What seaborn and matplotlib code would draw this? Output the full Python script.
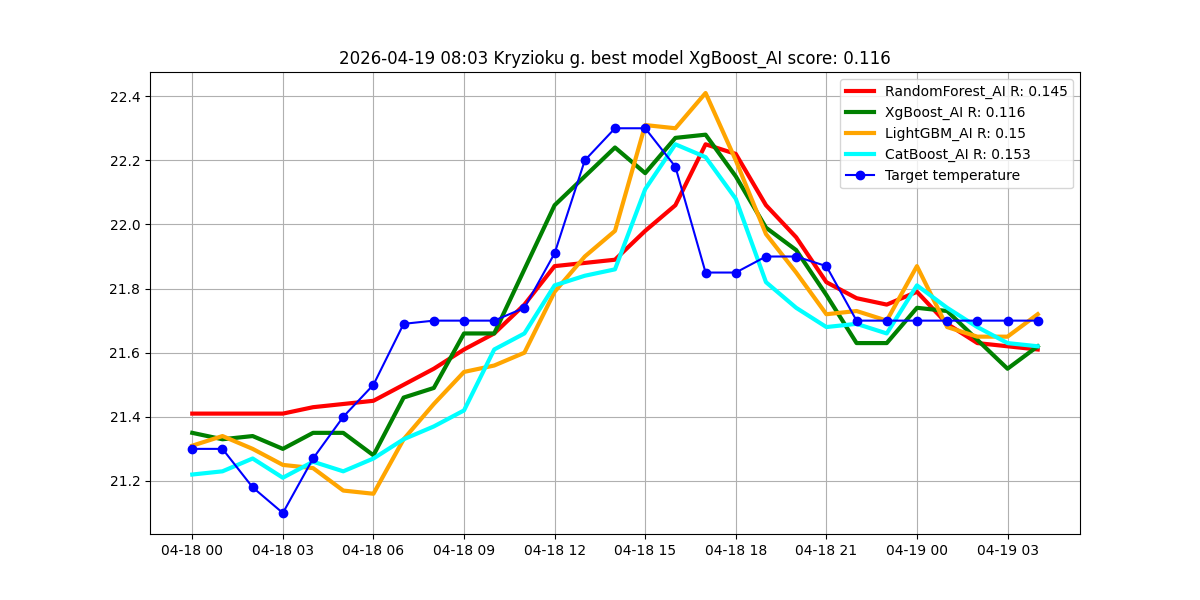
import matplotlib

matplotlib.use("Agg")
import matplotlib.dates as mdates
import matplotlib.pyplot as plt
import pandas as pd
import seaborn as sns

TITLE = "2026-04-19 08:03 Kryzioku g. best model XgBoost_AI score: 0.116"

# hourly timestamps, 04-18 00:00 .. 04-19 04:00
times = pd.date_range("2026-04-18 00:00", periods=29, freq="h")

random_forest = [21.41, 21.41, 21.41, 21.41, 21.43, 21.44, 21.45, 21.50, 21.55, 21.61,
                 21.66, 21.75, 21.87, 21.88, 21.89, 21.98, 22.06, 22.25, 22.22, 22.06,
                 21.96, 21.82, 21.77, 21.75, 21.79, 21.69, 21.63, 21.62, 21.61]
xgboost = [21.35, 21.33, 21.34, 21.30, 21.35, 21.35, 21.28, 21.46, 21.49, 21.66,
           21.66, 21.86, 22.06, 22.15, 22.24, 22.16, 22.27, 22.28, 22.15, 21.99,
           21.92, 21.78, 21.63, 21.63, 21.74, 21.73, 21.64, 21.55, 21.62]
lightgbm = [21.31, 21.34, 21.30, 21.25, 21.24, 21.17, 21.16, 21.33, 21.44, 21.54,
            21.56, 21.60, 21.79, 21.90, 21.98, 22.31, 22.30, 22.41, 22.20, 21.97,
            21.85, 21.72, 21.73, 21.70, 21.87, 21.68, 21.65, 21.65, 21.72]
catboost = [21.22, 21.23, 21.27, 21.21, 21.26, 21.23, 21.27, 21.33, 21.37, 21.42,
            21.61, 21.66, 21.81, 21.84, 21.86, 22.11, 22.25, 22.21, 22.08, 21.82,
            21.74, 21.68, 21.69, 21.66, 21.81, 21.74, 21.68, 21.63, 21.62]
target = [21.30, 21.30, 21.18, 21.10, 21.27, 21.40, 21.50, 21.69, 21.70, 21.70,
          21.70, 21.74, 21.91, 22.20, 22.30, 22.30, 22.18, 21.85, 21.85, 21.90,
          21.90, 21.87, 21.70, 21.70, 21.70, 21.70, 21.70, 21.70, 21.70]

models = [
    ("RandomForest_AI R: 0.145", random_forest, "red"),
    ("XgBoost_AI R: 0.116", xgboost, "green"),
    ("LightGBM_AI R: 0.15", lightgbm, "orange"),
    ("CatBoost_AI R: 0.153", catboost, "cyan"),
]


def main() -> None:
    fig, ax = plt.subplots(figsize=(12, 6), dpi=100)

    for label, values, color in models:
        sns.lineplot(x=times, y=values, ax=ax, color=color, linewidth=3, label=label)

    sns.lineplot(
        x=times, y=target, ax=ax, color="blue", linewidth=1.5, marker="o",
        markersize=6, markeredgecolor="blue", markeredgewidth=1,
        label="Target temperature",
    )

    ax.xaxis.set_major_locator(mdates.HourLocator(byhour=range(0, 24, 3)))
    ax.xaxis.set_major_formatter(mdates.DateFormatter("%m-%d %H"))
    ax.set_xlabel("")
    ax.set_ylabel("")
    ax.grid(True)
    ax.set_title(TITLE, fontsize=12)
    ax.legend(loc="upper right")

    fig.savefig("out.png", dpi=100)
    plt.close(fig)


if __name__ == "__main__":
    main()
